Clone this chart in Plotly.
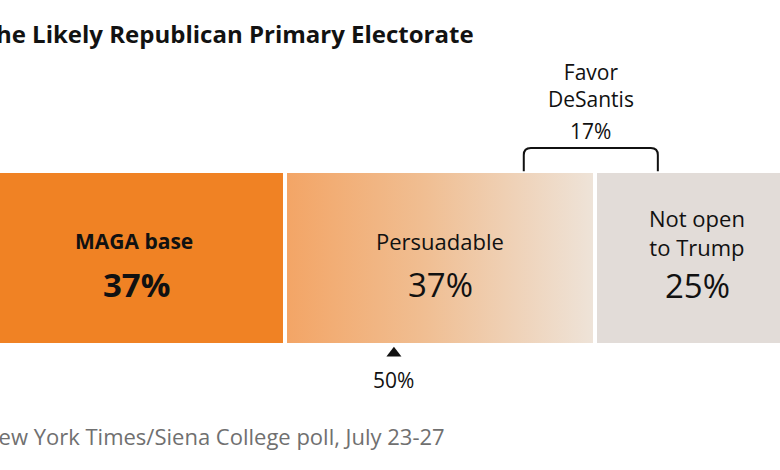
import plotly.graph_objects as go

# ---- data ----
segments = ["MAGA base", "Persuadable", "Not open<br>to Trump"]
shares = [37, 37, 25]
share_labels = ["37%", "37%", "25%"]
desantis_share = 17
desantis_center = 73.5
marker_value = 50
marker_label = "50%"

title_text = "The Likely Republican Primary Electorate"
source_text = "New York Times/Siena College poll, July 23-27"

# ---- style ----
maga_color = "#F08224"
grad_left = "#F3A566"
grad_mid = "#F0BE92"
grad_right = "#EEE3D8"
notopen_color = "#E2DCD8"
gap = 0.24  # half-gap between segments in data units
FONT = "'Open Sans', Roboto, 'Liberation Sans', Arial, sans-serif"

W, H = 780, 470
px_per_unit = 310 / 37.0
x_left = 37 - 285 / px_per_unit
x_right = x_left + W / px_per_unit
y_top = 258 / 170.0
y_bot = -(H - 258) / 170.0

starts = [0]
for s in shares[:-1]:
    starts.append(starts[-1] + s)
ends = [a + s for a, s in zip(starts, shares)]

fig = go.Figure()

# MAGA base
fig.add_trace(go.Bar(
    y=[0], x=[shares[0] - gap], base=[starts[0]],
    orientation="h", width=1, marker=dict(color=maga_color, line=dict(width=0)),
    hoverinfo="skip", showlegend=False))

# Persuadable (gradient fill)
x0p, x1p = starts[1] + gap, ends[1] - gap
fig.add_trace(go.Scatter(
    x=[x0p, x1p, x1p, x0p, x0p], y=[-0.5, -0.5, 0.5, 0.5, -0.5],
    mode="lines", line=dict(width=0), fill="toself",
    fillgradient=dict(type="horizontal",
                      colorscale=[[0, grad_left], [0.45, grad_mid], [1, grad_right]]),
    hoverinfo="skip", showlegend=False))

# Not open to Trump
fig.add_trace(go.Bar(
    y=[0], x=[shares[2] - gap], base=[starts[2] + gap],
    orientation="h", width=1, marker=dict(color=notopen_color, line=dict(width=0)),
    hoverinfo="skip", showlegend=False))

# 50% marker triangle
fig.add_trace(go.Scatter(
    x=[marker_value], y=[-0.56], mode="markers",
    marker=dict(symbol="triangle-up", size=13, color="#111111"),
    hoverinfo="skip", showlegend=False))

# bracket for DeSantis
bl = desantis_center - desantis_share / 2 + 0.5
br = desantis_center + desantis_share / 2 - 0.5
yb_top = 0.647
yb_bot = 0.51
rx = 7 / px_per_unit
ry = 7 / 170.0
path = (f"M {bl},{yb_bot} L {bl},{yb_top - ry} Q {bl},{yb_top} {bl + rx},{yb_top} "
        f"L {br - rx},{yb_top} Q {br},{yb_top} {br},{yb_top - ry} L {br},{yb_bot}")
fig.add_shape(type="path", path=path, xref="x", yref="y",
              line=dict(color="#111111", width=2))

def ydata(py):
    return (258 - py) / 170.0

def xdata(px):
    return x_left + px / px_per_unit

ann = []
# segment labels
ann.append(dict(x=xdata(134), y=ydata(241), text="<b>" + segments[0] + "</b>",
                font=dict(size=21, color="#111111")))
ann.append(dict(x=xdata(136), y=ydata(284), text="<b>" + share_labels[0] + "</b>",
                font=dict(size=33, color="#111111")))
ann.append(dict(x=(starts[1] + ends[1]) / 2, y=ydata(241), text=segments[1],
                font=dict(size=22, color="#111111")))
ann.append(dict(x=(starts[1] + ends[1]) / 2, y=ydata(284), text=share_labels[1],
                font=dict(size=33, color="#111111")))
ann.append(dict(x=xdata(697), y=ydata(232), text=segments[2],
                font=dict(size=22, color="#111111")))
ann.append(dict(x=xdata(697), y=ydata(285), text=share_labels[2],
                font=dict(size=33, color="#111111")))
# DeSantis labels
ann.append(dict(x=desantis_center, y=ydata(85), text="Favor<br>DeSantis",
                font=dict(size=21, color="#111111")))
ann.append(dict(x=desantis_center, y=ydata(131), text=f"{desantis_share}%",
                font=dict(size=21, color="#111111")))
# marker label
ann.append(dict(x=marker_value, y=ydata(380), text=marker_label,
                font=dict(size=21, color="#111111")))

for a in ann:
    a.update(xref="x", yref="y", showarrow=False, xanchor="center", yanchor="middle",
             font=dict(family=FONT, **a["font"]))

# title & source (left edge clipped as in reference)
ann.append(dict(x=476 / W, y=1 - 33 / H, xref="paper", yref="paper",
                text="<b>" + title_text + "</b>", showarrow=False,
                xanchor="right", yanchor="middle",
                font=dict(family=FONT, size=24, color="#121212")))
ann.append(dict(x=447 / W, y=1 - 436 / H, xref="paper", yref="paper",
                text=source_text, showarrow=False,
                xanchor="right", yanchor="middle",
                font=dict(family=FONT, size=22, color="#707070")))

fig.update_layout(
    width=W, height=H,
    margin=dict(l=0, r=0, t=0, b=0),
    paper_bgcolor="white", plot_bgcolor="white",
    barmode="overlay",
    xaxis=dict(range=[x_left, x_right], visible=False, fixedrange=True),
    yaxis=dict(range=[y_bot, y_top], visible=False, fixedrange=True),
    annotations=ann,
    showlegend=False,
)

fig.write_html("out.html", config={"displayModeBar": False},
               post_script="document.body.style.margin='0';document.body.style.padding='0';")
